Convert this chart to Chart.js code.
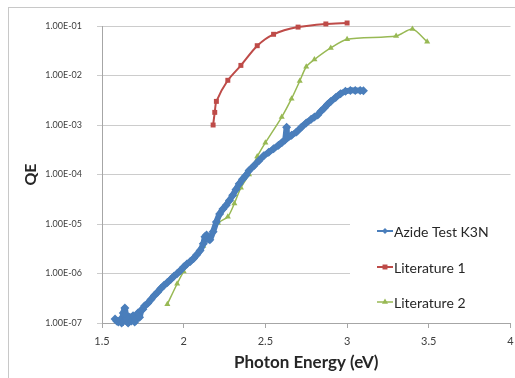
<!DOCTYPE html>
<html>
<head>
<meta charset="utf-8">
<script src="https://cdn.jsdelivr.net/npm/chart.js@4.4.1/dist/chart.umd.min.js"></script>
<style>
  html, body { margin: 0; padding: 0; background: #fff; }
</style>
</head>
<body>
<canvas id="qeChart" width="515" height="378"></canvas>
<script>
'use strict';

const seriesNames = ['Azide Test K3N', 'Literature 1', 'Literature 2'];
const seriesColors = ['#4a7ebb', '#be4b48', '#98b954'];

// Azide Test K3N measurement: photon energy (eV) and QE
const azideEnergy = [
  1.58, 1.59, 1.60, 1.61, 1.62, 1.63, 1.64, 1.645, 1.65, 1.66,
  1.67, 1.68, 1.69, 1.70, 1.71, 1.72, 1.73, 1.74, 1.75, 1.76,
  1.78, 1.80, 1.82, 1.84, 1.86, 1.88, 1.90, 1.92, 1.94, 1.96,
  1.98, 2.00, 2.02, 2.04, 2.06, 2.08, 2.10, 2.12, 2.13, 2.14,
  2.15, 2.16, 2.18, 2.20, 2.22, 2.24, 2.26, 2.28, 2.30, 2.32,
  2.34, 2.36, 2.38, 2.40, 2.43, 2.46, 2.49, 2.52, 2.55, 2.58,
  2.60, 2.62, 2.63, 2.635, 2.66, 2.69, 2.72, 2.75, 2.78, 2.80,
  2.82, 2.84, 2.86, 2.88, 2.90, 2.93, 2.96, 2.99, 3.02, 3.05,
  3.08, 3.10
];
const azideQE = [
  1.2e-7, 1.1e-7, 1.05e-7, 1.15e-7, 1.0e-7, 1.6e-7, 2.0e-7, 1.5e-7, 1.1e-7, 1.0e-7,
  1.3e-7, 1.1e-7, 1.4e-7, 1.05e-7, 1.2e-7, 1.6e-7, 1.3e-7, 1.8e-7, 1.9e-7, 2.2e-7,
  2.5e-7, 3.0e-7, 3.6e-7, 4.2e-7, 5.0e-7, 5.8e-7, 6.6e-7, 7.6e-7, 8.8e-7, 1.0e-6,
  1.15e-6, 1.35e-6, 1.55e-6, 1.75e-6, 2.0e-6, 2.4e-6, 2.9e-6, 4.0e-6, 5.5e-6, 6.0e-6,
  5.0e-6, 4.8e-6, 7.0e-6, 1.1e-5, 1.6e-5, 2.0e-5, 2.4e-5, 3.0e-5, 3.8e-5, 5.0e-5,
  6.5e-5, 8.0e-5, 9.5e-5, 1.2e-4, 1.5e-4, 1.9e-4, 2.4e-4, 2.8e-4, 3.3e-4, 3.9e-4,
  4.4e-4, 5.0e-4, 9.0e-4, 5.5e-4, 6.2e-4, 7.2e-4, 9.0e-4, 1.1e-3, 1.3e-3, 1.45e-3,
  1.6e-3, 1.9e-3, 2.2e-3, 2.6e-3, 3.0e-3, 3.6e-3, 4.3e-3, 4.8e-3, 5.0e-3, 5.0e-3,
  5.0e-3, 4.9e-3
];

// Literature 1
const lit1Energy = [2.18, 2.19, 2.20, 2.27, 2.35, 2.45, 2.55, 2.70, 2.87, 3.00];
const lit1QE = [1.0e-3, 1.8e-3, 3.0e-3, 8.0e-3, 1.6e-2, 4.0e-2, 6.8e-2, 9.5e-2, 1.1e-1, 1.15e-1];

// Literature 2
const lit2Energy = [
  1.90, 1.96, 2.00, 2.06, 2.12, 2.21, 2.27, 2.31, 2.35, 2.40, 2.45,
  2.50, 2.60, 2.66, 2.71, 2.75, 2.80, 2.90, 3.00, 3.30, 3.40, 3.49
];
const lit2QE = [
  2.4e-7, 6.2e-7, 1.1e-6, 2.1e-6, 3.6e-6, 1.05e-5, 1.4e-5, 2.6e-5, 5.4e-5, 1.0e-4, 2.3e-4,
  4.4e-4, 1.45e-3, 3.4e-3, 7.7e-3, 1.5e-2, 2.1e-2, 3.6e-2, 5.4e-2, 6.3e-2, 8.7e-2, 4.8e-2
];

const xTicks = [1.5, 2, 2.5, 3, 3.5, 4];
const yTicks = [1e-7, 1e-6, 1e-5, 1e-4, 1e-3, 1e-2, 1e-1];

const FONT = 'Lato, "Open Sans", sans-serif';

function toPoints(xs, ys) {
  return xs.map((x, i) => ({ x: x, y: ys[i] }));
}

// Excel style "1.00E-05"
function sciLabel(v) {
  const exp = Math.floor(Math.log10(v) + 1e-9);
  const mant = (v / Math.pow(10, exp)).toFixed(2);
  const sign = exp < 0 ? '-' : '+';
  return mant + 'E' + sign + String(Math.abs(exp)).padStart(2, '0');
}

const pointStyles = ['rectRot', 'rect', 'triangle'];

// outer frame of the chart
const frame = {
  id: 'frame',
  beforeDraw(chart) {
    const ctx = chart.ctx;
    ctx.save();
    ctx.strokeStyle = '#c8c8c8';
    ctx.lineWidth = 1;
    ctx.strokeRect(8.5, 7.5, 700, 500);
    ctx.restore();
  }
};

// legend sits on a white box inside the plot
const legendBox = {
  id: 'legendBox',
  beforeDatasetsDraw(chart) {
    const ctx = chart.ctx;
    ctx.save();
    ctx.fillStyle = '#ffffff';
    ctx.fillRect(350, 186, 165, 128);
    ctx.restore();
  },
  afterDraw(chart) {
    const ctx = chart.ctx;
    const rows = [231, 267, 302];
    ctx.save();
    chart.data.datasets.forEach((ds, i) => {
      const y = rows[i];
      ctx.strokeStyle = ds.borderColor;
      ctx.lineWidth = i === 0 ? 2 : ds.borderWidth;
      ctx.beginPath();
      ctx.moveTo(377, y);
      ctx.lineTo(393, y);
      ctx.stroke();
      ctx.fillStyle = ds.borderColor;
      Chart.helpers.drawPoint(ctx, {
        pointStyle: ds.pointStyle,
        radius: i === 0 ? 3 : 3.5,
        borderWidth: 0,
        rotation: 0
      }, 385, y);
      ctx.fillStyle = '#262626';
      ctx.font = '14px ' + FONT;
      ctx.textBaseline = 'middle';
      ctx.textAlign = 'left';
      ctx.fillText(ds.label, 394, y + 1);
    });
    ctx.restore();
  }
};

const datasets = [
  { data: toPoints(azideEnergy, azideQE), borderWidth: 6, pointRadius: 4.5 },
  { data: toPoints(lit1Energy, lit1QE), borderWidth: 2, pointRadius: 3.5 },
  { data: toPoints(lit2Energy, lit2QE), borderWidth: 1.5, pointRadius: 3.5 }
].map((d, i) => Object.assign(d, {
  label: seriesNames[i],
  borderColor: seriesColors[i],
  backgroundColor: seriesColors[i],
  pointBackgroundColor: seriesColors[i],
  pointBorderColor: seriesColors[i],
  pointBorderWidth: 0,
  pointStyle: pointStyles[i],
  tension: 0.25,
  clip: false
}));

new Chart(document.getElementById('qeChart'), {
  type: 'line',
  data: { datasets: datasets },
  plugins: [frame, legendBox],
  options: {
    responsive: false,
    animation: false,
    layout: { padding: { top: 26, right: 3, bottom: 0, left: 0 } },
    plugins: { legend: { display: false }, tooltip: { enabled: false } },
    scales: {
      x: {
        type: 'linear',
        min: 1.5,
        max: 4,
        afterBuildTicks: s => { s.ticks = xTicks.map(v => ({ value: v })); },
        afterFit: s => { s.height = 55; s.paddingLeft = 0; s.paddingRight = 0; },
        grid: { drawOnChartArea: false, drawTicks: true, tickLength: 5, color: '#a6a6a6' },
        border: { color: '#a6a6a6' },
        ticks: {
          font: { family: FONT, size: 11 },
          color: '#404040',
          padding: 7,
          maxRotation: 0,
          callback: v => String(v)
        },
        title: {
          display: true,
          text: 'Photon Energy (eV)',
          font: { family: FONT, size: 17, weight: 'bold' },
          color: '#262626',
          padding: { top: 0, bottom: 5 }
        }
      },
      y: {
        type: 'logarithmic',
        min: 1e-7,
        max: 1e-1,
        afterBuildTicks: s => { s.ticks = yTicks.map(v => ({ value: v })); },
        afterFit: s => { s.width = 102; s.paddingTop = 0; s.paddingBottom = 0; },
        grid: { color: '#cccccc', tickLength: 5 },
        border: { color: '#a6a6a6' },
        ticks: {
          font: { family: FONT, size: 9 },
          color: '#404040',
          padding: 15,
          callback: v => sciLabel(v)
        },
        title: {
          display: true,
          text: 'QE',
          font: { family: FONT, size: 16, weight: 'bold' },
          color: '#262626',
          padding: { top: 21, bottom: 0 }
        }
      }
    }
  }
});
</script>
</body>
</html>
